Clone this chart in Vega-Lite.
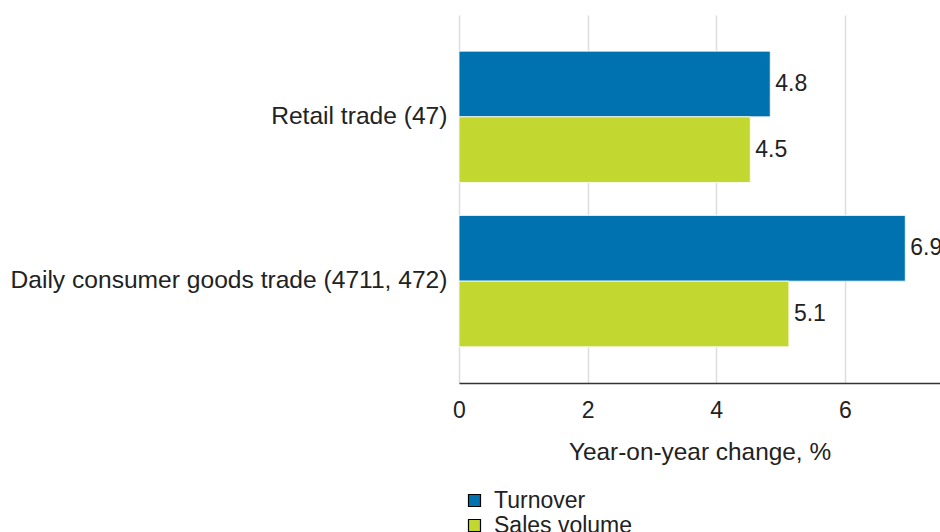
{
  "$schema": "https://vega.github.io/schema/vega-lite/v6.json",
  "autosize": "none",
  "padding": {"left": 459, "top": 15, "right": 0, "bottom": 149},
  "width": 481,
  "height": 368,
  "background": "white",
  "config": {
    "font": "Liberation Sans",
    "view": {"stroke": null}
  },
  "data": {
    "values": [
      {"category": "Retail trade (47)", "series": "Turnover", "value": 4.84},
      {"category": "Retail trade (47)", "series": "Sales volume", "value": 4.53},
      {"category": "Daily consumer goods trade (4711, 472)", "series": "Turnover", "value": 6.94},
      {"category": "Daily consumer goods trade (4711, 472)", "series": "Sales volume", "value": 5.13}
    ]
  },
  "encoding": {
    "y": {
      "field": "category",
      "type": "nominal",
      "sort": ["Retail trade (47)", "Daily consumer goods trade (4711, 472)"],
      "scale": {"paddingInner": 0.2, "paddingOuter": 0.22},
      "axis": {
        "title": null,
        "domain": false,
        "ticks": false,
        "grid": false,
        "labelFontSize": 24.6,
        "labelColor": "#222222",
        "labelPadding": 12,
        "labelLimit": 600
      }
    },
    "yOffset": {
      "field": "series",
      "type": "nominal",
      "sort": ["Turnover", "Sales volume"],
      "scale": {"paddingInner": 0, "paddingOuter": 0}
    },
    "x": {
      "field": "value",
      "type": "quantitative",
      "scale": {"domain": [0, 7.48], "nice": false, "zero": true},
      "axis": {
        "title": "Year-on-year change, %",
        "values": [0, 2, 4, 6],
        "format": "d",
        "labelFlush": false,
        "domain": true,
        "domainColor": "#333333",
        "domainWidth": 1.5,
        "ticks": false,
        "grid": true,
        "gridColor": "#dddddd",
        "gridWidth": 1.5,
        "labelFontSize": 23,
        "labelColor": "#222222",
        "labelPadding": 16,
        "titleFontSize": 24.4,
        "titleFontWeight": "normal",
        "titleColor": "#222222",
        "titlePadding": 18
      }
    }
  },
  "layer": [
    {
      "mark": {"type": "bar", "stroke": "#ffffff", "strokeWidth": 0.8},
      "encoding": {
        "color": {
          "field": "series",
          "type": "nominal",
          "scale": {"domain": ["Turnover", "Sales volume"], "range": ["#0072B0", "#C2D72F"]},
          "legend": {
            "title": null,
            "orient": "none",
            "legendX": 4,
            "legendY": 474,
            "direction": "vertical",
            "symbolType": "square",
            "symbolSize": 144,
            "symbolStrokeColor": "#000000",
            "symbolStrokeWidth": 1.2,
            "symbolFillOpacity": 1,
            "labelFontSize": 23,
            "labelColor": "#222222",
            "labelOffset": 8,
            "rowPadding": 1
          }
        }
      }
    },
    {
      "mark": {"type": "text", "align": "left", "baseline": "middle", "dx": 5, "fontSize": 23, "color": "#222222"},
      "encoding": {
        "text": {"field": "value", "type": "quantitative", "format": ".1f"}
      }
    }
  ]
}
